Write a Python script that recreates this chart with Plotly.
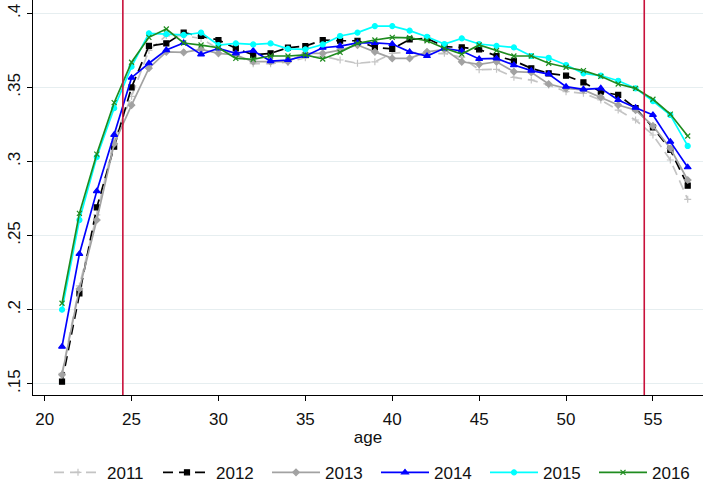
import plotly.graph_objects as go

ages = list(range(21, 58))

y2011 = [0.157, 0.216, 0.264, 0.315, 0.344, 0.375, 0.385, 0.385, 0.383, 0.376,
         0.372, 0.366, 0.366, 0.367, 0.370, 0.371, 0.3685, 0.3663, 0.3673, 0.373,
         0.374, 0.3723, 0.373, 0.3703, 0.362, 0.3622, 0.3568, 0.355, 0.3516, 0.3471,
         0.346, 0.3415, 0.3347, 0.328, 0.3179, 0.301, 0.2745]
y2012 = [0.1514, 0.211, 0.269, 0.310, 0.350, 0.378, 0.3797, 0.387, 0.3847, 0.382,
         0.3764, 0.372, 0.373, 0.3768, 0.3779, 0.382, 0.3815, 0.3815, 0.377, 0.376,
         0.3824, 0.3831, 0.3775, 0.377, 0.3757, 0.3712, 0.368, 0.3629, 0.3595, 0.3579,
         0.3534, 0.3471, 0.3449, 0.336, 0.323, 0.3078, 0.2837]
y2013 = [0.156, 0.214, 0.2605, 0.312, 0.338, 0.363, 0.374, 0.3737, 0.3757, 0.373,
         0.3719, 0.3674, 0.3674, 0.3674, 0.373, 0.373, 0.3752, 0.3786, 0.374, 0.3696,
         0.3696, 0.374, 0.3757, 0.3673, 0.3656, 0.3673, 0.3606, 0.3602, 0.3523, 0.3494,
         0.3483, 0.3433, 0.3381, 0.3347, 0.324, 0.3089, 0.2875]
y2014 = [0.175, 0.2376, 0.280, 0.318, 0.3566, 0.3663, 0.3752, 0.380, 0.3723, 0.3764,
         0.373, 0.3748, 0.3678, 0.3685, 0.3712, 0.3768, 0.3779, 0.380, 0.380, 0.3793,
         0.374, 0.3712, 0.3764, 0.3746, 0.3692, 0.3696, 0.3651, 0.3613, 0.359, 0.3505,
         0.3487, 0.3494, 0.3415, 0.3363, 0.3314, 0.3134, 0.2961]
y2015 = [0.200, 0.2605, 0.303, 0.336, 0.364, 0.3865, 0.386, 0.3854, 0.387, 0.3786,
         0.3797, 0.379, 0.3797, 0.376, 0.3757, 0.379, 0.3847, 0.387, 0.3914, 0.3914,
         0.3883, 0.3842, 0.3793, 0.3831, 0.3793, 0.378, 0.377, 0.3712, 0.370, 0.3651,
         0.3595, 0.358, 0.3545, 0.3494, 0.3408, 0.3314, 0.3105]
y2016 = [0.2043, 0.265, 0.305, 0.3397, 0.367, 0.3838, 0.3894, 0.380, 0.3786, 0.3768,
         0.3696, 0.369, 0.3712, 0.3712, 0.3719, 0.3692, 0.3737, 0.3797, 0.382, 0.3838,
         0.3835, 0.3815, 0.3764, 0.3725, 0.3786, 0.3748, 0.3712, 0.3712, 0.3663, 0.3636,
         0.3613, 0.3575, 0.3523, 0.3494, 0.342, 0.332, 0.3172]

years = ["2011", "2012", "2013", "2014", "2015", "2016"]
series = [y2011, y2012, y2013, y2014, y2015, y2016]
colors = ["#c4c4c4", "#000000", "#a2a2a2", "#0000ff", "#00ffff", "#1f8c1f"]
dashes = ["10px,6px", "10px,6px", "solid", "solid", "solid", "solid"]
symbols = ["cross-thin", "square", "diamond", "triangle-up", "circle", "x-thin"]
msizes = [5, 5, 5, 6, 5, 5]

y_ticks = [0.15, 0.2, 0.25, 0.3, 0.35, 0.4]
y_ticktext = [".15", ".2", ".25", ".3", ".35", ".4"]
x_ticks = [20, 25, 30, 35, 40, 45, 50, 55]
ref_ages = [24.5, 54.5]

fig = go.Figure()
for yr, ys, c, d, s, ms in zip(years, series, colors, dashes, symbols, msizes):
    fig.add_trace(go.Scatter(
        x=ages, y=ys, name=yr, mode="lines+markers",
        line=dict(color=c, width=1.7, dash=d),
        marker=dict(symbol=s, size=ms, color=c, line=dict(color=c, width=1.2)),
    ))

for a in ref_ages:
    fig.add_shape(type="line", x0=a, x1=a, xref="x", y0=0, y1=1, yref="paper",
                  line=dict(color="#c8103a", width=1.6), layer="above")

font = "Liberation Sans, Arial, Helvetica, sans-serif"
fig.update_layout(
    width=703, height=483,
    margin=dict(l=33, r=0, t=0, b=88, autoexpand=False),
    plot_bgcolor="white", paper_bgcolor="white",
    font=dict(family=font, size=17, color="#111111"),
    showlegend=True,
    legend=dict(orientation="h", x=1.0, xanchor="right", y=-0.197, yanchor="middle",
                itemwidth=48, entrywidth=46, entrywidthmode="pixels", font=dict(size=17),
                bgcolor="rgba(0,0,0,0)", itemclick=False),
    xaxis=dict(range=[19.33, 57.88], tickvals=x_ticks, showgrid=False, zeroline=False,
               showline=True, linecolor="black", linewidth=1, ticks="outside",
               ticklen=5, tickcolor="black", tickfont=dict(size=17),
               ticklabelstandoff=4,
               title=dict(text="age", font=dict(size=17), standoff=2)),
    yaxis=dict(range=[0.1424, 0.409], tickvals=y_ticks, ticktext=y_ticktext,
               tickangle=-90, showgrid=True, gridcolor="#e6eef0", gridwidth=1,
               zeroline=False, showline=True, linecolor="black", linewidth=1,
               ticks="outside", ticklen=5, tickcolor="black", tickfont=dict(size=17)),
)

fig.write_html("out.html")
